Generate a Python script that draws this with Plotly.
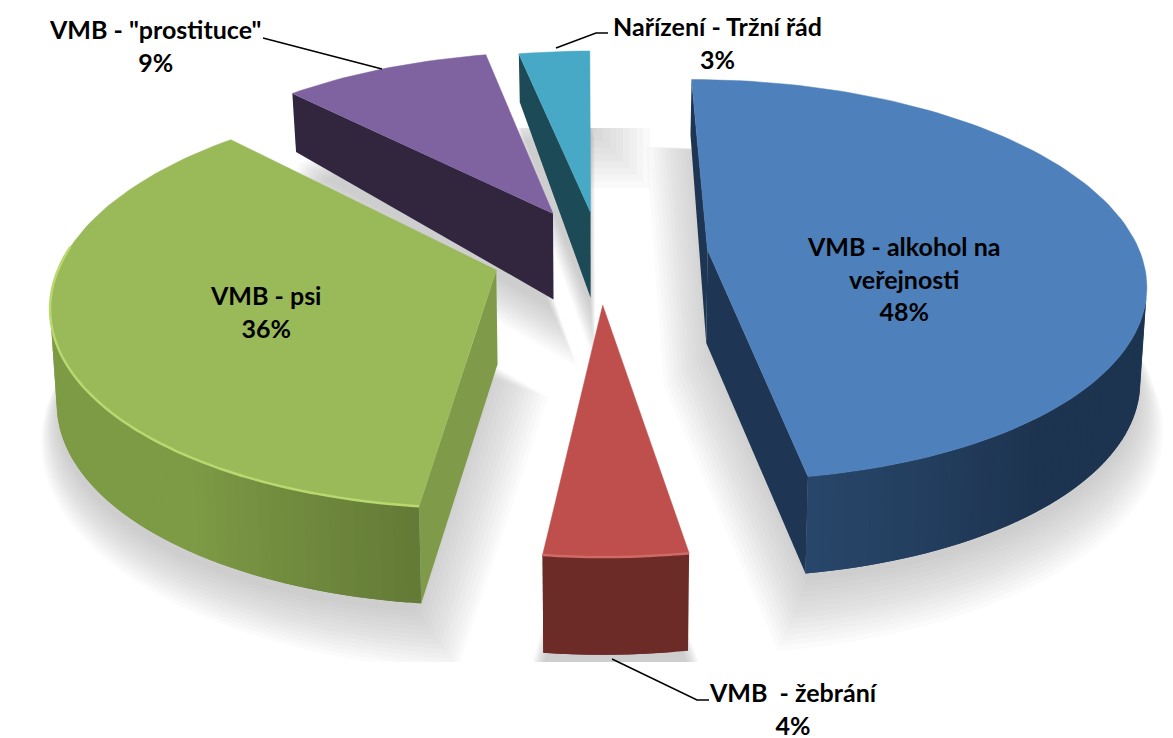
import numpy as np
import plotly.graph_objects as go

# ---- data ----
categories = ["VMB - alkohol na<br>veřejnosti", "VMB  - žebrání", "VMB - psi", 'VMB - "prostituce"', "Nařízení - Tržní řád"]
values = [47.5, 4.4, 35.9, 9.1, 3.1]

# ---- style / geometry ----
explode = [0.25, 0.25, 0.25, 0.24, 0.22]
top_colors = ["#4E80BB", "#BE4F4C", "#9ABA5A", "#7F62A0", "#47A9C6"]
radial_colors = ["#1E3654", "#6B2A28", "#7F9A48", "#32263F", "#1C4A56"]
label_xy = [(903, 278), (793, 708), (265, 311), (155, 45), (717, 42)]
draw_order = [4, 3, 2, 0, 1]
start_deg = -0.3
CX, CY, A, B, K = 600.0, 254.0, 433.0, 197.0, 0.15
W, H = 1173, 738


def project(X, Y):
    s = 1.0 / (1.0 + K * Y)
    return CX + A * X * s, CY - B * Y * s


def drop(X, Y):
    x, y = project(X, Y)
    d = 94 - 38 * np.maximum(Y, 0) - 3 * np.minimum(Y, 0)
    return x + (CX - x) * 0.012, y + d


def lerp_hex(c1, c2, t):
    t = max(0.0, min(1.0, t))
    a = [int(c1[i:i + 2], 16) for i in (1, 3, 5)]
    b = [int(c2[i:i + 2], 16) for i in (1, 3, 5)]
    return "rgb(%d,%d,%d)" % tuple(round(p + (q - p) * t) for p, q in zip(a, b))


total = sum(values)
sweeps = [v / total * 360 for v in values]
starts = start_deg + np.concatenate([[0], np.cumsum(sweeps)[:-1]])
slices = []
for i, (a0, sw) in enumerate(zip(starts, sweeps)):
    mid = np.radians(a0 + sw / 2)
    ox, oy = explode[i] * np.sin(mid), explode[i] * np.cos(mid)
    th = np.radians(np.linspace(a0, a0 + sw, max(int(sw / 1.5), 4) + 1))
    X = np.concatenate([[ox], ox + np.sin(th), [ox]])
    Y = np.concatenate([[oy], oy + np.cos(th), [oy]])
    slices.append((X, Y, th))

fig = go.Figure()


def poly(x, y, color, lw=0.0):
    fig.add_trace(go.Scatter(x=list(x), y=list(y), mode="lines", fill="toself", fillcolor=color,
                             line=dict(color=color, width=lw), hoverinfo="skip", showlegend=False))


# floor shadow: blurred footprint, grown about each slice's centre
for grow, shift in zip(np.linspace(1.15, 0.98, 14), np.linspace(42, 12, 14)):
    for X, Y, th in slices:
        xs, ys = drop(X, Y)
        ax, ay = xs[:-1].mean(), ys[:-1].mean()
        px = ax + (xs - ax) * grow
        py = ay + (ys - ay) * grow + shift
        poly(px, np.clip(py, 128, 662), "rgba(130,130,130,0.034)")
# fading back edge of the shadow behind the small slice
for dx in np.linspace(6, 60, 9):
    poly([585, 590 + dx, 590 + dx, 585], [128, 128, 128 + dx, 128 + dx], "rgba(130,130,130,0.04)")

# slices, back to front
for i in draw_order:
    X, Y, th = slices[i]
    sx, sy = project(X, Y)
    bx, by = drop(X, Y)
    n = len(X) - 1
    arc_walls = []
    radial_walls = []
    for j in range(n):
        qx = [sx[j], sx[j + 1], bx[j + 1], bx[j]]
        qy = [sy[j], sy[j + 1], by[j + 1], by[j]]
        area = sum(qx[k] * qy[(k + 1) % 4] - qx[(k + 1) % 4] * qy[k] for k in range(4))
        if area >= 0:
            continue
        if j == 0 or j == n - 1:
            radial_walls.append((qx, qy))
        else:
            arc_walls.append(j)
    for qx, qy in radial_walls:
        poly(qx, qy, radial_colors[i])
    for j in arc_walls:
        deg = np.degrees((th[j - 1] + th[j]) / 2) % 360
        if i == 2:
            if deg > 262:
                color = lerp_hex("#7D9A45", "#9ABA5A", (deg - 262) / 16)
            elif deg > 215:
                color = "#7D9A45"
            else:
                color = lerp_hex("#617735", "#7D9A45", (deg - 184) / 31)
        elif i == 0:
            color = lerp_hex("#28466A", "#1D3450", (170 - deg) / 30)
        elif i == 1:
            color = "#6D2B28"
        else:
            color = radial_colors[i]
        # each strip overlaps the next point so no seam shows between strips
        e = min(j + 2, n - 1)
        idx = list(range(j, e + 1))
        poly(list(sx[idx]) + list(bx[idx][::-1]), list(sy[idx]) + list(by[idx][::-1]), color)
    poly(sx, sy, top_colors[i], 0.5)
    # light rim on the front edge of the green and red tops
    if i in (1, 2):
        rim = [j for j in range(1, n) if Y[j] < slices[i][1][0] + 0.12]
        fig.add_trace(go.Scatter(x=sx[rim], y=sy[rim], mode="lines", hoverinfo="skip", showlegend=False,
                                 line=dict(color="#B9D870" if i == 2 else "#CF6A66", width=2.5, shape="spline")))

# leader lines
leaders = [([263, 382], [38, 69]), ([556, 596, 608], [48, 33, 33]), ([612, 697, 709], [659, 700, 700])]
for lx, ly in leaders:
    fig.add_trace(go.Scatter(x=lx, y=ly, mode="lines", line=dict(color="black", width=1.5),
                             hoverinfo="skip", showlegend=False))

annotations = [dict(x=px, y=py, xref="x", yref="y", showarrow=False, align="center",
                    text="<b>%s<br>%d%%</b>" % (c, round(v)),
                    font=dict(family="Lato, Carlito, sans-serif", size=25, color="black"))
               for c, v, (px, py) in zip(categories, values, label_xy)]

fig.update_layout(width=W, height=H, margin=dict(l=0, r=0, t=0, b=0), paper_bgcolor="white", plot_bgcolor="white",
                  xaxis=dict(range=[0, W], visible=False, fixedrange=True),
                  yaxis=dict(range=[H, 0], visible=False, fixedrange=True),
                  showlegend=False, annotations=annotations)
fig.write_html("out.html", config={"displayModeBar": False},
               post_script="document.body.style.margin='0';document.body.style.overflow='hidden';")
